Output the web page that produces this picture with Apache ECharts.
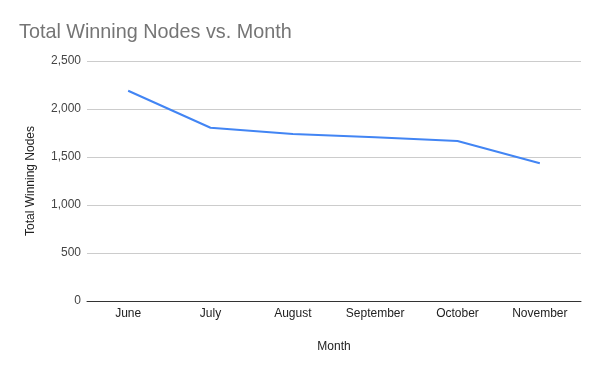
<!DOCTYPE html>
<html><head><meta charset="utf-8">
<script src="https://cdn.jsdelivr.net/npm/echarts@6/dist/echarts.min.js"></script>
<style>html,body{margin:0;padding:0;background:#fff}#c{width:600px;height:371px}</style>
</head><body><div id="c"></div>
<script>
const months = ["June", "July", "August", "September", "October", "November"];
const winningNodes = [2190, 1805, 1740, 1705, 1667, 1434];
const yTicks = [0, 500, 1000, 1500, 2000, 2500];

const FONT = '"Liberation Sans", Arial, sans-serif';
const chart = echarts.init(document.getElementById('c'), null, {renderer: 'canvas'});
chart.setOption({
  animation: false,
  backgroundColor: '#fff',
  title: {
    text: 'Total Winning Nodes vs. Month',
    left: 14, top: 18,
    textStyle: {fontFamily: FONT, fontSize: 19.8, fontWeight: 'normal', color: '#757575'}
  },
  grid: {left: 87, right: 19, top: 61, bottom: 70},
  xAxis: {
    type: 'category',
    data: months,
    boundaryGap: true,
    name: 'Month',
    nameLocation: 'middle',
    nameGap: 40,
    nameTextStyle: {fontFamily: FONT, fontSize: 12, color: '#222'},
    axisLine: {lineStyle: {color: '#333', width: 1}},
    axisTick: {show: false},
    axisLabel: {fontFamily: FONT, fontSize: 12, color: '#222', margin: 7}
  },
  yAxis: {
    type: 'value',
    min: yTicks[0], max: yTicks[yTicks.length - 1], interval: 500,
    name: 'Total Winning Nodes',
    nameLocation: 'middle',
    nameGap: 50,
    nameTextStyle: {fontFamily: FONT, fontSize: 12, color: '#222'},
    axisLine: {show: false},
    axisTick: {show: false},
    splitLine: {lineStyle: {color: '#cccccc', width: 1}},
    axisLabel: {fontFamily: FONT, fontSize: 12, color: '#444', margin: 6,
      formatter: v => v.toLocaleString('en-US')}
  },
  series: [{
    type: 'line',
    data: winningNodes,
    symbol: 'none',
    lineStyle: {color: '#4285F4', width: 2},
    itemStyle: {color: '#4285F4'}
  }]
});
</script></body></html>
